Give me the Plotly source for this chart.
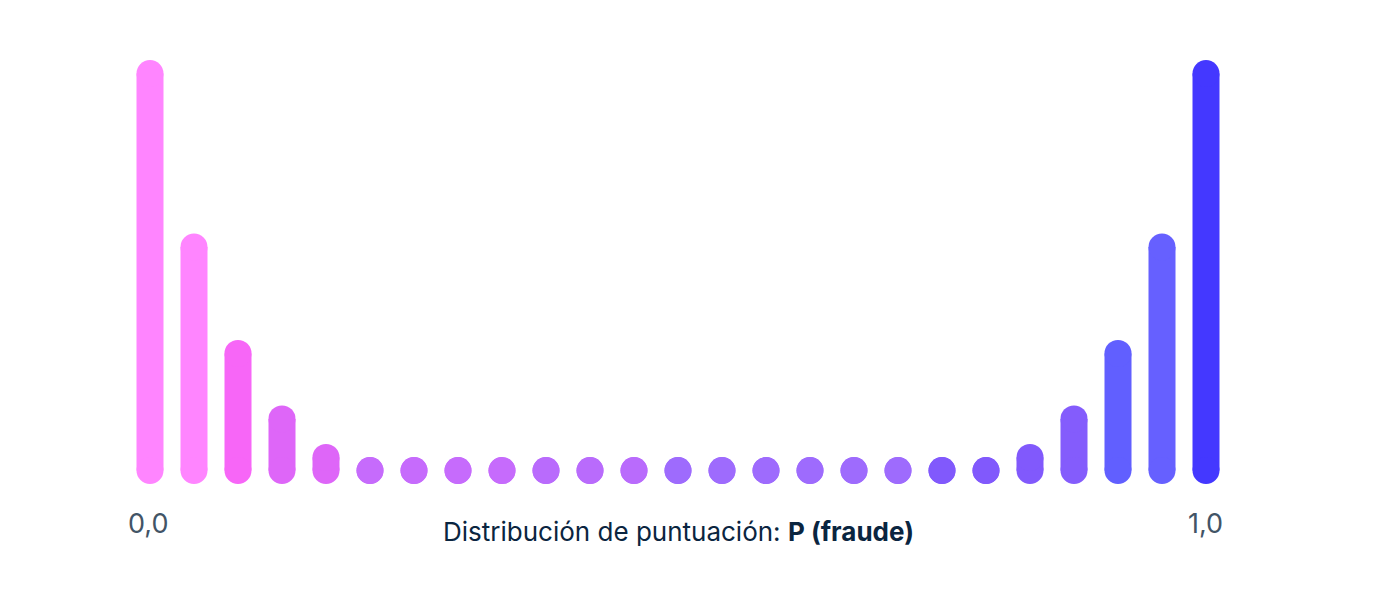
import plotly.graph_objects as go

# score bins 0.0 -> 1.0 (25 bins), relative share per bin
bins = list(range(25))
share = [100, 56.3, 29.5, 13, 3.3] + [0] * 15 + [3.3, 13, 29.5, 56.3, 100]
bar_colors = (["#FF85FF", "#FF85FF", "#F766F7", "#DE66F8", "#DE66F8"]
              + ["#C66BFC"] * 4 + ["#B96BFC"] * 3 + ["#9E6BFD"] * 6
              + ["#8159FC"] * 3 + ["#845CFC", "#615FFF", "#6660FF", "#4438FF"])
end_labels = ["0,0", "1,0"]
title_txt = "Distribución de puntuación: <b>P (fraude)</b>"

W, H = 1384, 596
OFF = 8          # page body margin
BAR_W = 27
PX_X = 44.0      # px per bin
PX_Y = 3.97      # px per share unit

fig = go.Figure()
for b, v, c in zip(bins, share, bar_colors):
    # capsule: thick line + round ends
    fig.add_trace(go.Scatter(
        x=[b, b], y=[0, v], mode="lines+markers",
        line=dict(color=c, width=BAR_W),
        marker=dict(color=c, size=BAR_W, line=dict(width=0)),
        hoverinfo="skip", showlegend=False,
    ))

x0 = -(150 - OFF) / PX_X
y0 = -(H - (470.5 - OFF)) / PX_Y
fig.update_xaxes(range=[x0, x0 + W / PX_X], visible=False, fixedrange=True)
fig.update_yaxes(range=[y0, y0 + H / PX_Y], visible=False, fixedrange=True)

lab_font = dict(family="Inter, sans-serif", size=27, color="#425466")
fig.add_annotation(x=bins[0], y=1 - (523 - OFF) / H, xref="x", yref="paper",
                   text=end_labels[0], showarrow=False, font=lab_font,
                   xanchor="center", yanchor="middle", xshift=-2)
fig.add_annotation(x=bins[-1], y=1 - (523 - OFF) / H, xref="x", yref="paper",
                   text=end_labels[1], showarrow=False, font=lab_font,
                   xanchor="center", yanchor="middle", xshift=-1)
fig.add_annotation(x=12, y=1 - (531 - OFF) / H, xref="x", yref="paper",
                   text=title_txt, showarrow=False,
                   font=dict(family="Inter, sans-serif", size=26, color="#0A2540"),
                   xanchor="center", yanchor="middle")

fig.update_layout(
    width=W, height=H,
    margin=dict(l=0, r=0, t=0, b=0),
    paper_bgcolor="white", plot_bgcolor="white",
)
fig.write_html("out.html", config={"displayModeBar": False})
